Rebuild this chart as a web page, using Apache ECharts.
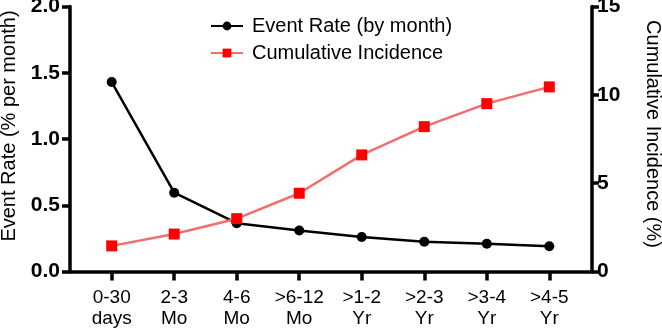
<!DOCTYPE html>
<html>
<head>
<meta charset="utf-8">
<script src="https://cdn.jsdelivr.net/npm/echarts@6/dist/echarts.min.js"></script>
<style>
html,body{margin:0;padding:0;background:#fff;}
#chart{width:662px;height:328px;}
</style>
</head>
<body>
<div id="chart"></div>
<script>
const categories = ["0-30\ndays", "2-3\nMo", "4-6\nMo", ">6-12\nMo", ">1-2\nYr", ">2-3\nYr", ">3-4\nYr", ">4-5\nYr"];
const eventRate = [1.43, 0.595, 0.365, 0.31, 0.26, 0.225, 0.21, 0.19];
const cumulativeIncidence = [1.45, 2.12, 2.99, 4.43, 6.6, 8.2, 9.5, 10.45];
const leftTicks = [0, 0.5, 1.0, 1.5, 2.0];
const rightTicks = [0, 5, 10, 15];

const FONT = 'Arial, "Liberation Sans", sans-serif';
const chart = echarts.init(document.getElementById('chart'), null, {renderer: 'canvas'});
const idx = categories.map((c, i) => i);

chart.setOption({
  animation: false,
  backgroundColor: '#fff',
  textStyle: {fontFamily: FONT},
  grid: {left: 70, right: 70, top: 6.5, bottom: 56.5, containLabel: false, outerBoundsMode: 'none'},
  legend: {
    orient: 'vertical',
    left: 205,
    top: 11,
    itemWidth: 32,
    itemHeight: 11,
    itemGap: 7,
    textStyle: {fontFamily: FONT, fontSize: 20, color: '#000', padding: [0, 0, 0, 4]},
    data: ['Event Rate (by month)', 'Cumulative Incidence']
  },
  xAxis: {
    type: 'value',
    min: -0.667,
    max: 7.683,
    splitLine: {show: false},
    axisLine: {onZero: false, lineStyle: {color: '#000', width: 3.5}},
    axisTick: {show: true, customValues: idx, length: 9, lineStyle: {color: '#000', width: 3.5}},
    axisLabel: {
      customValues: idx,
      formatter: v => categories[Math.round(v)],
      color: '#000', fontFamily: FONT, fontSize: 19, lineHeight: 21, margin: 16
    }
  },
  yAxis: [
    {
      type: 'value', min: leftTicks[0], max: leftTicks[leftTicks.length - 1], interval: 0.5,
      position: 'left',
      name: 'Event Rate (% per month)',
      nameLocation: 'middle', nameGap: 50,
      nameTextStyle: {fontFamily: FONT, fontSize: 20, color: '#000', padding: [0, 0, 0, 26]},
      splitLine: {show: false},
      axisLine: {show: true, onZero: false, lineStyle: {color: '#000', width: 3.5}},
      axisTick: {show: true, length: 8, lineStyle: {color: '#000', width: 3.5}},
      axisLabel: {formatter: v => v.toFixed(1), color: '#000', fontFamily: FONT, fontSize: 21, fontWeight: 'bold', margin: 10}
    },
    {
      type: 'value', min: rightTicks[0], max: rightTicks[rightTicks.length - 1], interval: 5,
      position: 'right',
      name: 'Cumulative Incidence (%)',
      nameLocation: 'middle', nameGap: 51, nameRotate: -90,
      nameTextStyle: {fontFamily: FONT, fontSize: 20, color: '#000', padding: [0, 10, 0, 0]},
      splitLine: {show: false},
      axisLine: {show: true, onZero: false, lineStyle: {color: '#000', width: 3.5}},
      axisTick: {show: true, length: 7, lineStyle: {color: '#000', width: 3.5}},
      axisLabel: {color: '#000', fontFamily: FONT, fontSize: 21, fontWeight: 'bold', margin: 5}
    }
  ],
  series: [
    {
      name: 'Event Rate (by month)', type: 'line', yAxisIndex: 0,
      data: eventRate.map((v, i) => [i, v]),
      symbol: 'circle', symbolSize: 10,
      lineStyle: {color: '#000', width: 2.5},
      itemStyle: {color: '#000'}
    },
    {
      name: 'Cumulative Incidence', type: 'line', yAxisIndex: 1,
      data: cumulativeIncidence.map((v, i) => [i, v]),
      symbol: 'rect', symbolSize: 11,
      lineStyle: {color: '#f26d6d', width: 2.5},
      itemStyle: {color: '#ff0000'}
    }
  ]
});
</script>
</body>
</html>
